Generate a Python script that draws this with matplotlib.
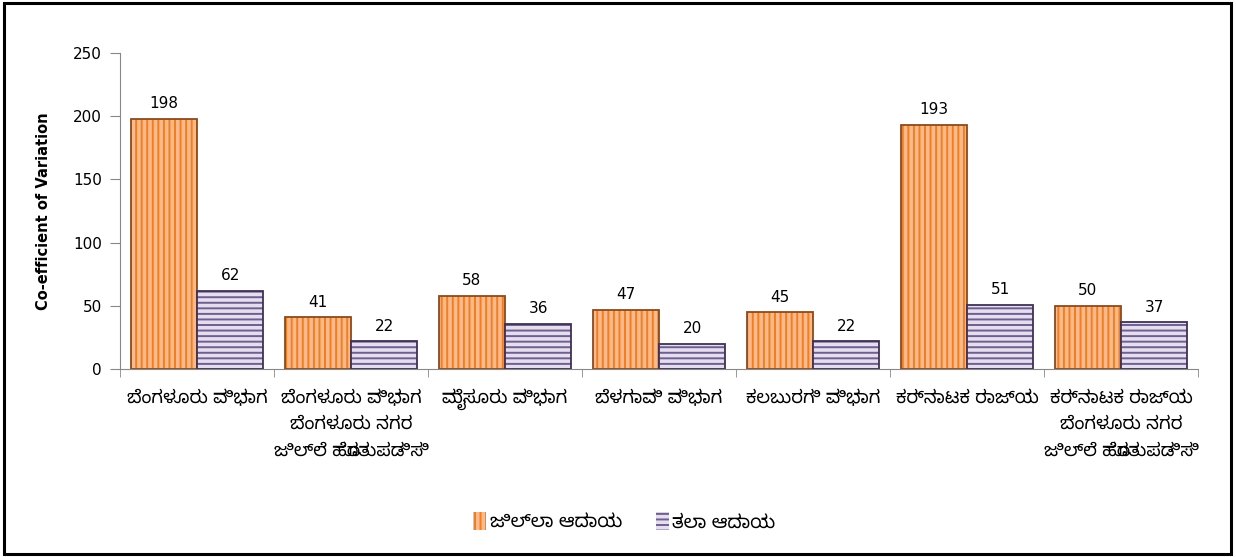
import numpy as np
import matplotlib
matplotlib.use('Agg')
import matplotlib.pyplot as plt
from matplotlib import font_manager
from matplotlib.patches import Rectangle, Patch

# data
categories = ['ಬೆಂಗಳೂರು ವಿಭಾಗ',
              'ಬೆಂಗಳೂರು ವಿಭಾಗ\nಬೆಂಗಳೂರು ನಗರ\nಜಿಲ್ಲೆ ಹೊರತುಪಡಿಸಿ',
              'ಮೈಸೂರು ವಿಭಾಗ',
              'ಬೆಳಗಾವಿ ವಿಭಾಗ',
              'ಕಲಬುರಗಿ ವಿಭಾಗ',
              'ಕರ್ನಾಟಕ ರಾಜ್ಯ',
              'ಕರ್ನಾಟಕ ರಾಜ್ಯ\nಬೆಂಗಳೂರು ನಗರ\nಜಿಲ್ಲೆ ಹೊರತುಪಡಿಸಿ']
district_income = [198, 41, 58, 47, 45, 193, 50]
per_capita_income = [62, 22, 36, 20, 22, 51, 37]
series_names = ['ಜಿಲ್ಲಾ ಆದಾಯ', 'ತಲಾ ಆದಾಯ']
yticks = [0, 50, 100, 150, 200, 250]

# pick a Kannada capable font if one is there
available = {f.name for f in font_manager.fontManager.ttflist}
kn_fonts = [f for f in ['Noto Sans Kannada', 'Noto Serif Kannada', 'Lohit Kannada',
                        'Tunga', 'Nirmala UI'] if f in available]
plt.rcParams['font.family'] = kn_fonts + ['Noto Sans', 'DejaVu Sans']
plt.rcParams['hatch.linewidth'] = 1.4
num_font = ['DejaVu Sans']

fig = plt.figure(figsize=(12.36, 5.57), dpi=100)
ax = fig.add_axes([0.0971, 0.337, 0.8722, 0.568])

x = np.arange(len(categories))
w = 0.43
orange_face, orange_hatch, orange_edge = '#FCBA8A', '#F07E22', '#8A4A1C'
purple_face, purple_hatch, purple_edge = '#E4DEEE', '#6F5E90', '#3E3152'

ax.bar(x - w / 2, district_income, w, color=orange_face, hatch='|||',
       edgecolor=orange_hatch, linewidth=0)
ax.bar(x - w / 2, district_income, w, fill=False, edgecolor=orange_edge, linewidth=1.3)
ax.bar(x + w / 2, per_capita_income, w, color=purple_face, hatch='---',
       edgecolor=purple_hatch, linewidth=0)
ax.bar(x + w / 2, per_capita_income, w, fill=False, edgecolor=purple_edge, linewidth=1.3)

for xi, v in zip(x - w / 2, district_income):
    ax.text(xi, v + 6, str(v), ha='center', va='bottom', fontsize=11, family=num_font)
for xi, v in zip(x + w / 2, per_capita_income):
    ax.text(xi, v + 6, str(v), ha='center', va='bottom', fontsize=11, family=num_font)

ax.set_xlim(-0.5, len(categories) - 0.5)
ax.set_ylim(0, 250)
ax.set_yticks(yticks)
ax.set_xticks(x)
ax.set_xticklabels(categories, fontsize=13, linespacing=1.6)
ax.set_xticks(np.arange(len(categories) + 1) - 0.5, minor=True)
ax.tick_params(axis='x', which='major', length=0, pad=14)
ax.tick_params(axis='x', which='minor', length=6, color='#888888')
ax.tick_params(axis='y', length=7, color='#888888', labelsize=11, pad=6)
for lab in ax.get_yticklabels():
    lab.set_family(num_font)
ax.set_ylabel('Co-efficient of Variation', fontsize=10.5, fontweight='bold',
              family=num_font, labelpad=16)
for s in ['top', 'right']:
    ax.spines[s].set_visible(False)
for s in ['left', 'bottom']:
    ax.spines[s].set_color('#888888')

handles = [Patch(facecolor=orange_face, hatch='|||', edgecolor=orange_hatch, linewidth=0),
           Patch(facecolor=purple_face, hatch='---', edgecolor=purple_hatch, linewidth=0)]
fig.legend(handles, series_names, loc='center', bbox_to_anchor=(0.505, 0.063), ncol=2,
           frameon=False, handlelength=0.7, handleheight=1.1, handletextpad=0.2,
           columnspacing=1.8, prop={'weight': 'bold', 'size': 13.5})

fig.patches.append(Rectangle((0.003, 0.006), 0.993, 0.988, transform=fig.transFigure,
                             fill=False, edgecolor='black', linewidth=2.2))

fig.savefig('out.png', dpi=100)
